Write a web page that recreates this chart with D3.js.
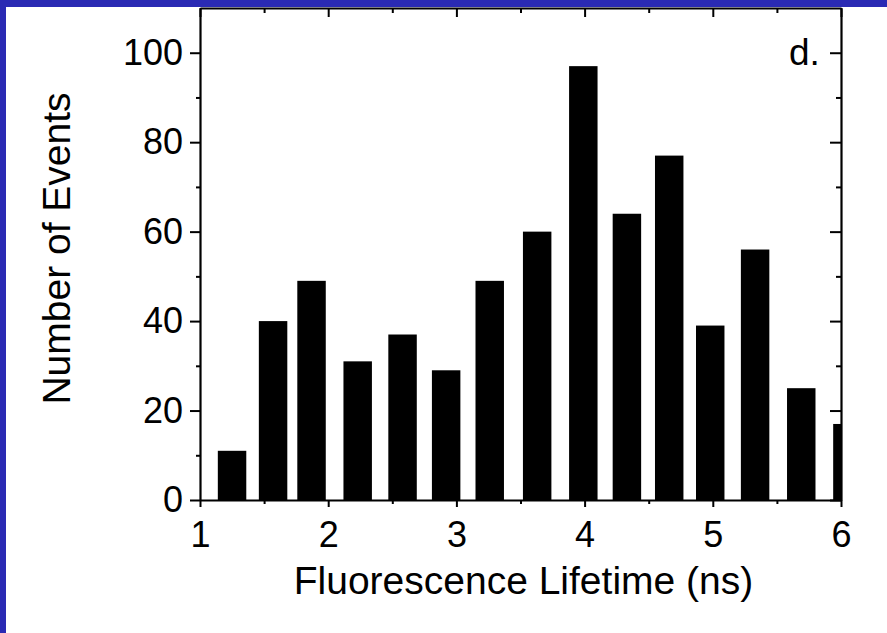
<!DOCTYPE html>
<html>
<head>
<meta charset="utf-8">
<script src="https://cdn.jsdelivr.net/npm/d3@7/dist/d3.min.js"></script>
<style>
  html, body { margin: 0; padding: 0; background: #ffffff; }
  svg { display: block; }
  text { font-family: "Liberation Sans", Arial, Helvetica, sans-serif; fill: #000; }
</style>
</head>
<body>
<svg id="chart" width="887" height="633"></svg>
<script>
// ---- data ----
const binCenters = [1.25, 1.57, 1.87, 2.23, 2.58, 2.92, 3.26, 3.63, 3.99, 4.33, 4.66, 4.98, 5.33, 5.69, 6.05];
const counts     = [11, 40, 49, 31, 37, 29, 49, 60, 97, 64, 77, 39, 56, 25, 17];
const xTicks = [1, 2, 3, 4, 5, 6];
const xMinorTicks = [1.5, 2.5, 3.5, 4.5, 5.5];
const yTicks = [0, 20, 40, 60, 80, 100];
const yMinorTicks = [10, 30, 50, 70, 90];
const xTitle = "Fluorescence Lifetime (ns)";
const yTitle = "Number of Events";
const panelLabel = "d.";

// ---- layout ----
const W = 887, H = 633;
const pL = 200, pR = 841, pT = 8, pB = 500;
const barWidthNs = 0.222;

const svg = d3.select("#chart");
svg.append("rect").attr("width", W).attr("height", H).attr("fill", "#ffffff");

const x = d3.scaleLinear().domain([1, 6]).range([pL, pR]);
const y = d3.scaleLinear().domain([0, 110]).range([pB, pT]);

// clip for bars
svg.append("defs").append("clipPath").attr("id", "plotclip")
  .append("rect").attr("x", pL).attr("y", pT).attr("width", pR - pL).attr("height", pB - pT);

svg.append("g").attr("clip-path", "url(#plotclip)")
  .selectAll("rect").data(counts).join("rect")
  .attr("x", (d, i) => x(binCenters[i] - barWidthNs / 2))
  .attr("width", (d, i) => x(binCenters[i] + barWidthNs / 2) - x(binCenters[i] - barWidthNs / 2))
  .attr("y", d => y(d))
  .attr("height", d => y(0) - y(d))
  .attr("fill", "#000");

const axisStyle = g => {
  g.select(".domain").attr("stroke", "#000").attr("stroke-width", 2.2);
  g.selectAll(".tick line").attr("stroke", "#000").attr("stroke-width", 2);
  g.selectAll(".tick text").style("font-size", "36px").attr("fill", "#000")
    .style("font-family", '"Liberation Sans", Arial, sans-serif');
};
const minorStyle = g => {
  g.select(".domain").remove();
  g.selectAll("line").attr("stroke", "#000").attr("stroke-width", 2);
};

// bottom axis
const gb = svg.append("g").attr("transform", `translate(0,${pB})`)
  .call(d3.axisBottom(x).tickValues(xTicks).tickFormat(d3.format("d")).tickSizeInner(7).tickSizeOuter(0).tickPadding(14));
axisStyle(gb);
svg.append("g").attr("transform", `translate(0,${pB})`)
  .call(d3.axisBottom(x).tickValues(xMinorTicks).tickFormat("").tickSizeInner(4).tickSizeOuter(0))
  .call(minorStyle);

// top axis (inward ticks)
const gt = svg.append("g").attr("transform", `translate(0,${pT})`)
  .call(d3.axisTop(x).tickValues(xTicks).tickFormat("").tickSizeInner(-9).tickSizeOuter(0));
axisStyle(gt);
svg.append("g").attr("transform", `translate(0,${pT})`)
  .call(d3.axisTop(x).tickValues(xMinorTicks).tickFormat("").tickSizeInner(-5).tickSizeOuter(0))
  .call(minorStyle);

// left axis
const gl = svg.append("g").attr("transform", `translate(${pL},0)`)
  .call(d3.axisLeft(y).tickValues(yTicks).tickFormat(d3.format("d")).tickSizeInner(10).tickSizeOuter(0).tickPadding(7));
axisStyle(gl);
svg.append("g").attr("transform", `translate(${pL},0)`)
  .call(d3.axisLeft(y).tickValues(yMinorTicks).tickFormat("").tickSizeInner(4).tickSizeOuter(0))
  .call(minorStyle);

// right axis (inward ticks)
const gr = svg.append("g").attr("transform", `translate(${pR},0)`)
  .call(d3.axisRight(y).tickValues(yTicks).tickFormat("").tickSizeInner(-11).tickSizeOuter(0));
axisStyle(gr);
svg.append("g").attr("transform", `translate(${pR},0)`)
  .call(d3.axisRight(y).tickValues(yMinorTicks).tickFormat("").tickSizeInner(-5).tickSizeOuter(0))
  .call(minorStyle);

// titles
svg.append("text")
  .attr("x", (pL + pR) / 2 + 3).attr("y", 594)
  .attr("text-anchor", "middle")
  .style("font-size", "39px")
  .text(xTitle);

svg.append("text")
  .attr("transform", `translate(70,${(92 + 405) / 2}) rotate(-90)`)
  .attr("text-anchor", "middle")
  .style("font-size", "39px")
  .text(yTitle);

svg.append("text")
  .attr("x", 789).attr("y", 65)
  .style("font-size", "37px")
  .text(panelLabel);

// blue frame (top and left strips)
svg.append("rect").attr("x", 0).attr("y", 0).attr("width", W).attr("height", 7).attr("fill", "#2a2ab4");
svg.append("rect").attr("x", 0).attr("y", 0).attr("width", 6).attr("height", H).attr("fill", "#2a2ab4");
</script>
</body>
</html>
